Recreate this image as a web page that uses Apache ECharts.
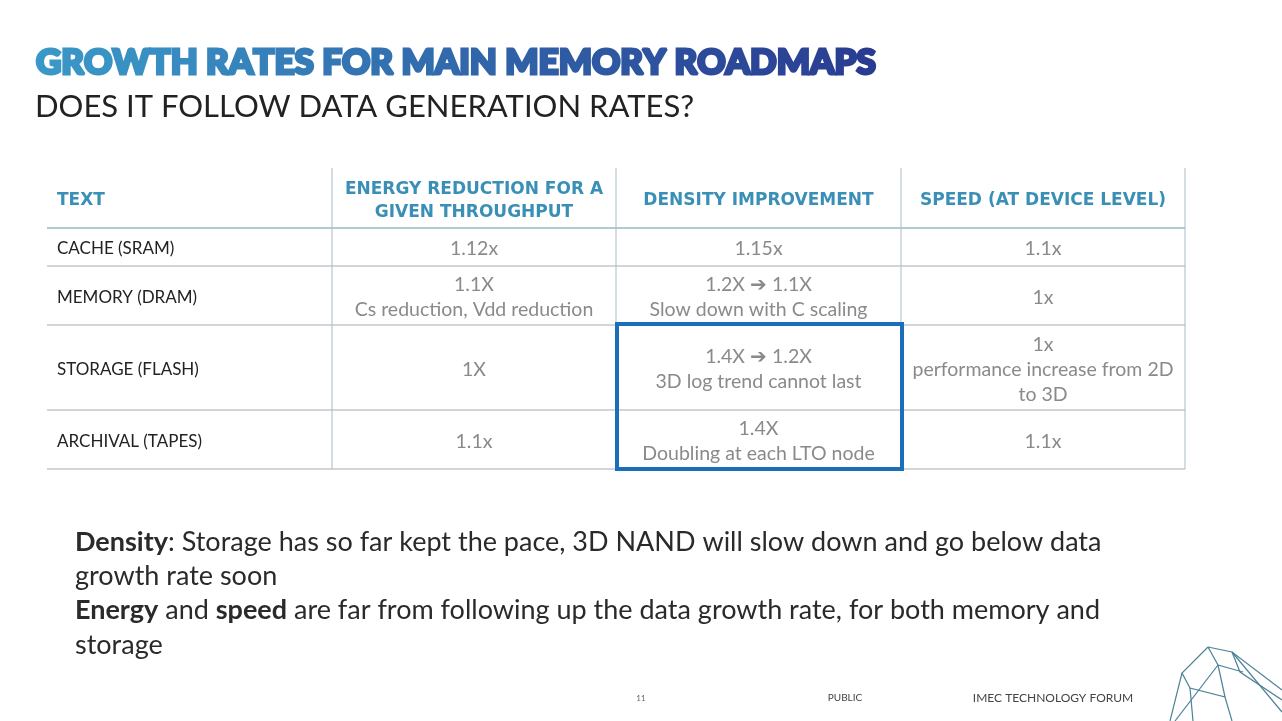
<!DOCTYPE html>
<html>
<head>
<meta charset="utf-8">
<script src="https://cdn.jsdelivr.net/npm/echarts@6/dist/echarts.min.js"></script>
<style>
  html, body { margin: 0; padding: 0; background: #fff; }
  #main { width: 1282px; height: 721px; }
</style>
</head>
<body>
<div id="main"></div>
<script>
// table content
const headers = ['TEXT', 'ENERGY REDUCTION FOR A\nGIVEN THROUGHPUT', 'DENSITY IMPROVEMENT', 'SPEED (AT DEVICE LEVEL)'];
const rowLabels = ['CACHE (SRAM)', 'MEMORY (DRAM)', 'STORAGE (FLASH)', 'ARCHIVAL (TAPES)'];
const energy = ['1.12x', '1.1X\nCs reduction, Vdd reduction', '1X', '1.1x'];
const density = ['1.15x', '1.2X ➔ 1.1X\nSlow down with C scaling', '1.4X ➔ 1.2X\n3D log trend cannot last', '1.4X\nDoubling at each LTO node'];
const speed = ['1.1x', '1x', '1x\nperformance increase from 2D\nto 3D', '1.1x'];
const highlightCol = 2;
const highlightRows = [2, 3];

const title = 'GROWTH RATES FOR MAIN MEMORY ROADMAPS';
const subtitle = 'DOES IT FOLLOW DATA GENERATION RATES?';
const notes = [
  '{b|Density}: Storage has so far kept the pace, 3D NAND will slow down and go below data',
  'growth rate soon',
  '{b|Energy} and {b|speed} are far from following up the data growth rate, for both memory and',
  'storage'
];

// layout
const colX = [47, 332, 616, 901, 1185];
const rowY = [168, 228, 266, 325, 410, 469];
const FONT = 'Lato, "Open Sans", sans-serif';

const chart = echarts.init(document.getElementById('main'));
const g = [];

// title: colour fades from light blue to navy, one rich token per letter
const titleFrom = [58, 152, 200];
const titleTo = [42, 60, 145];
const titleRich = {};
let titleText = '';
[...title].forEach((ch, i) => {
  const t = i / (title.length - 1);
  const c = titleFrom.map((v, k) => Math.round(v + (titleTo[k] - v) * t));
  const col = `rgb(${c.join(',')})`;
  titleRich['c' + i] = { font: `900 35px ${FONT}`, fill: col, stroke: col, lineWidth: 3 };
  titleText += ch === ' ' ? ' ' : `{c${i}|${ch}}`;
});
g.push({
  type: 'text',
  style: { x: 36, y: 63, text: titleText, font: `900 35px ${FONT}`, verticalAlign: 'middle', rich: titleRich }
});
g.push({
  type: 'text',
  style: { x: 35, y: 107, text: subtitle, font: `31px ${FONT}`, fill: '#222', verticalAlign: 'middle' }
});

// grid lines
for (let i = 1; i < rowY.length; i++) {
  g.push({
    type: 'line',
    shape: { x1: colX[0], y1: rowY[i], x2: colX[4], y2: rowY[i] },
    style: { stroke: i === 1 ? '#5f98ab' : '#a4acb0', lineWidth: 1 }
  });
}
for (let j = 1; j < colX.length; j++) {
  g.push({
    type: 'line',
    shape: { x1: colX[j], y1: rowY[0], x2: colX[j], y2: rowY[rowY.length - 1] },
    style: { stroke: '#a9bcc4', lineWidth: 1 }
  });
}

// header
headers.forEach((h, j) => {
  const first = j === 0;
  g.push({
    type: 'text',
    style: {
      x: first ? colX[0] + 10 : (colX[j] + colX[j + 1]) / 2,
      y: (rowY[0] + rowY[1]) / 2 + 3,
      text: h, font: 'bold 17px "DejaVu Sans", sans-serif', fill: '#3a8fb7',
      align: first ? 'left' : 'center', verticalAlign: 'middle', lineHeight: 23
    }
  });
});

// body rows
const cols = [energy, density, speed];
rowLabels.forEach((lab, r) => {
  const cy = (rowY[r + 1] + rowY[r + 2]) / 2 + 2;
  g.push({
    type: 'text',
    style: { x: colX[0] + 10, y: cy, text: lab, font: `17px ${FONT}`, fill: '#222', verticalAlign: 'middle' }
  });
  cols.forEach((c, k) => {
    g.push({
      type: 'text',
      style: {
        x: (colX[k + 1] + colX[k + 2]) / 2, y: cy,
        text: c[r], font: `19.5px ${FONT}`, fill: '#8a8a8a',
        align: 'center', verticalAlign: 'middle', lineHeight: 25
      }
    });
  });
});

// highlight box
g.push({
  type: 'rect',
  shape: {
    x: colX[highlightCol] + 1, y: rowY[highlightRows[0] + 1] - 1,
    width: colX[highlightCol + 1] - colX[highlightCol], height: rowY[highlightRows[1] + 2] - rowY[highlightRows[0] + 1] + 1
  },
  style: { fill: 'none', stroke: '#1a6fb8', lineWidth: 4 }
});

// notes
notes.forEach((t, i) => {
  g.push({
    type: 'text',
    style: {
      x: 75, y: 542 + i * 34.3, text: t, font: `27px ${FONT}`, fill: '#2a2a2a', verticalAlign: 'middle',
      rich: { b: { font: `bold 27px ${FONT}`, fill: '#2a2a2a' } }
    }
  });
});

// footer
g.push({ type: 'text', style: { x: 641, y: 698, text: '11', font: `8px ${FONT}`, fill: '#666', align: 'center', verticalAlign: 'middle' } });
g.push({ type: 'text', style: { x: 845, y: 698, text: 'PUBLIC', font: `10px ${FONT}`, fill: '#444', align: 'center', verticalAlign: 'middle' } });
g.push({ type: 'text', style: { x: 1053, y: 698, text: 'IMEC TECHNOLOGY FORUM', font: `12px ${FONT}`, fill: '#444', align: 'center', verticalAlign: 'middle' } });

// corner logo
const logo = [
  [[1208, 647], [1232, 652], [1282, 690]],
  [[1232, 652], [1282, 712]],
  [[1208, 647], [1182, 673], [1190, 688], [1225, 697], [1232, 721]],
  [[1208, 647], [1218, 665], [1243, 672]],
  [[1218, 665], [1175, 721]],
  [[1182, 673], [1170, 721]],
  [[1190, 688], [1193, 721]],
  [[1218, 665], [1225, 697]],
  [[1232, 652], [1240, 672], [1282, 700]]
];
logo.forEach(pts => {
  g.push({ type: 'polyline', shape: { points: pts }, style: { stroke: '#4b8296', lineWidth: 1.2, fill: 'none' } });
});

chart.setOption({ backgroundColor: '#fff', graphic: g });
</script>
</body>
</html>
